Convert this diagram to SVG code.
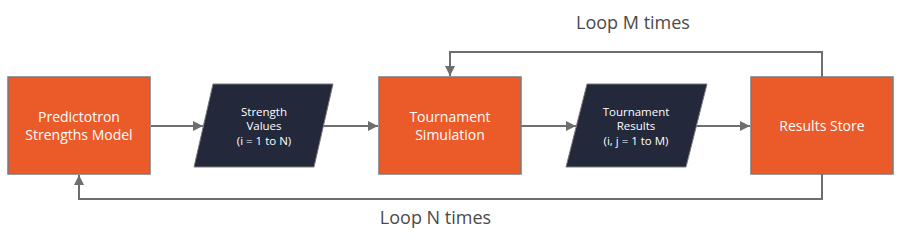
<svg xmlns="http://www.w3.org/2000/svg" width="903" height="239" viewBox="0 0 903 239">
<defs>
<style>
.proc{fill:#EB5A29;stroke:#7a7a7a;stroke-width:1.5}
.data{fill:#23283B;stroke:#7a7a7a;stroke-width:1}
.t{font-family:"Open Sans","Noto Sans",sans-serif;fill:#ffffff;text-anchor:middle}
.big{font-size:14px}
.small{font-size:11.5px}
.lbl{font-family:"Open Sans","Noto Sans",sans-serif;fill:#4a4a4a;font-size:18px;text-anchor:middle}
.c{fill:none;stroke:#6e6e6e;stroke-width:2}
</style>
<marker id="ah" viewBox="0 0 10 10" refX="10" refY="5" markerWidth="10" markerHeight="10" markerUnits="userSpaceOnUse" orient="auto">
<path d="M0,0 L10,5 L0,10 z" fill="#6e6e6e"/>
</marker>
</defs>
<g id="connectors">
<line class="c" x1="151" y1="126" x2="203" y2="126" marker-end="url(#ah)"/>
<line class="c" x1="323" y1="126" x2="378" y2="126" marker-end="url(#ah)"/>
<line class="c" x1="521" y1="126" x2="576" y2="126" marker-end="url(#ah)"/>
<line class="c" x1="696" y1="126" x2="750" y2="126" marker-end="url(#ah)"/>
<polyline class="c" points="822,77 822,52 450,52 450,76" marker-end="url(#ah)"/>
<polyline class="c" points="822,174 822,199 79,199 79,175" marker-end="url(#ah)"/>
</g>
<g id="predictotron">
<rect class="proc" x="8" y="77" width="142" height="97"/>
<text class="t big" x="79" y="122">Predictotron</text>
<text class="t big" x="79" y="140">Strengths Model</text>
</g>
<g id="strength-values">
<polygon class="data" points="213,84 333,84 314,167 194,167"/>
<text class="t small" x="264" y="116">Strength</text>
<text class="t small" x="264" y="130">Values</text>
<text class="t small" x="264" y="145">(i = 1 to N)</text>
</g>
<g id="tournament-simulation">
<rect class="proc" x="379" y="77" width="142" height="97"/>
<text class="t big" x="450" y="122">Tournament</text>
<text class="t big" x="450" y="140">Simulation</text>
</g>
<g id="tournament-results">
<polygon class="data" points="587,84 707,84 686,167 566,167"/>
<text class="t small" x="636" y="116">Tournament</text>
<text class="t small" x="636" y="130">Results</text>
<text class="t small" x="636" y="145">(i, j = 1 to M)</text>
</g>
<g id="results-store">
<rect class="proc" x="751" y="77" width="142" height="97"/>
<text class="t big" x="822" y="131">Results Store</text>
</g>
<g id="labels">
<text class="lbl" x="633" y="29">Loop M times</text>
<text class="lbl" x="435.5" y="224">Loop N times</text>
</g>
</svg>
